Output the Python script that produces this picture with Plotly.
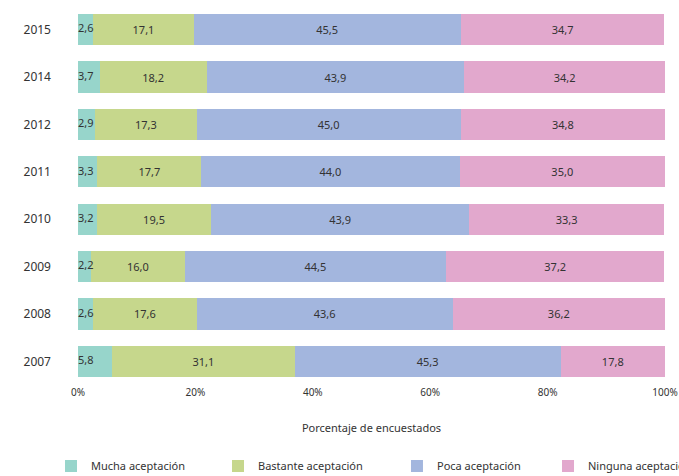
import plotly.graph_objects as go

# datos
anios = ['2007', '2008', '2009', '2010', '2011', '2012', '2014', '2015']
mucha = [5.8, 2.6, 2.2, 3.2, 3.3, 2.9, 3.7, 2.6]
bastante = [31.1, 17.6, 16.0, 19.5, 17.7, 17.3, 18.2, 17.1]
poca = [45.3, 43.6, 44.5, 43.9, 44.0, 45.0, 43.9, 45.5]
ninguna = [17.8, 36.2, 37.2, 33.3, 35.0, 34.8, 34.2, 34.7]
ticks_x = [0, 20, 40, 60, 80, 100]

def etiqueta(vals):
    return [f'{v:.1f}'.replace('.', ',') for v in vals]

series = [
    ('Mucha aceptación', mucha, '#97d5cb', 'legend', -0.046),
    ('Bastante aceptación', bastante, '#c6d78c', 'legend2', 0.2385),
    ('Poca aceptación', poca, '#a3b6de', 'legend3', 0.5434),
    ('Ninguna aceptación', ninguna, '#e2a8cd', 'legend4', 0.8007),
]

fig = go.Figure()
leyendas = {}
for i, (nombre, vals, color, leg, lx) in enumerate(series):
    fig.add_trace(go.Bar(
        y=anios, x=vals, name=nombre, orientation='h',
        marker=dict(color=color, line=dict(width=0)),
        text=etiqueta(vals) if i > 0 else None,
        textposition='inside', insidetextanchor='middle', textangle=0,
        textfont=dict(color='#333333', size=11),
        width=0.66, legend=leg, showlegend=True,
    ))
    leyendas[leg] = dict(orientation='h', x=lx, xanchor='left', y=-0.2137, yanchor='middle',
                         font=dict(size=11, color='#333333'), itemwidth=30,
                         bgcolor='rgba(0,0,0,0)')

# etiquetas de "Mucha aceptación" encima de todo, alineadas a la izquierda
fig.add_trace(go.Scatter(
    y=anios, x=[0] * len(anios), mode='text', text=etiqueta(mucha),
    textposition='middle right', textfont=dict(color='#333333', size=11),
    showlegend=False, hoverinfo='skip', cliponaxis=False,
))

fig.update_layout(
    barmode='stack',
    showlegend=True,
    width=679, height=476,
    margin=dict(l=78, r=14, t=6, b=91, autoexpand=False),
    plot_bgcolor='white', paper_bgcolor='white',
    font=dict(family='Noto Sans', size=11, color='#333333'),
    uniformtext=dict(minsize=11, mode='show'),
    xaxis=dict(range=[0, 100], tickvals=ticks_x, ticktext=[f'{t}%' for t in ticks_x],
               showgrid=False, zeroline=False, showline=False, automargin=False,
               title=dict(text='Porcentaje de encuestados', font=dict(size=11), standoff=26),
               tickfont=dict(size=10)),
    yaxis=dict(showgrid=False, showline=False, ticklabelstandoff=26, automargin=False,
               tickfont=dict(size=12)),
    **leyendas,
)

# quitar el margen por defecto del body
fig.write_html("out.html", config={'displayModeBar': False},
               post_script="document.body.style.margin='0';")
